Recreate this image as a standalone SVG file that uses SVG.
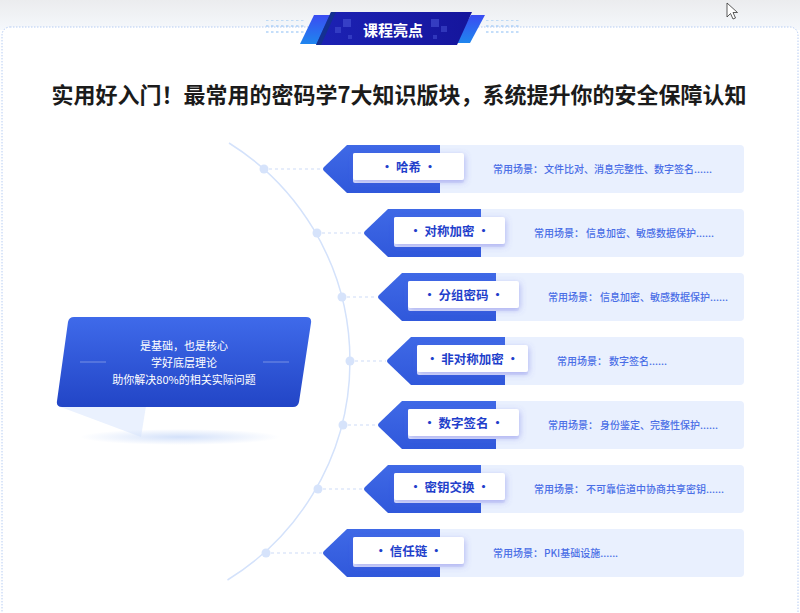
<svg xmlns="http://www.w3.org/2000/svg" width="800" height="613" viewBox="0 0 800 613">
<defs>
<linearGradient id="topbg" x1="0" y1="0" x2="0" y2="1"><stop offset="0" stop-color="#ebecee"/><stop offset="1" stop-color="#f5f8fc"/></linearGradient>
<linearGradient id="navy" x1="0" y1="0" x2="1" y2="0"><stop offset="0" stop-color="#1c22b4"/><stop offset="1" stop-color="#15159c"/></linearGradient>
<linearGradient id="side" x1="0" y1="0" x2="0" y2="1"><stop offset="0" stop-color="#3a4cf2"/><stop offset="1" stop-color="#1f86ee"/></linearGradient>
<linearGradient id="leftbox" x1="0" y1="0" x2="0" y2="1"><stop offset="0" stop-color="#3f6aea"/><stop offset="1" stop-color="#2245c6"/></linearGradient>
<linearGradient id="arrow" x1="0" y1="0" x2="0" y2="1"><stop offset="0" stop-color="#3f69e6"/><stop offset="1" stop-color="#3058db"/></linearGradient>
<radialGradient id="glow" cx="0.5" cy="0.5" r="0.5"><stop offset="0" stop-color="#d3e1fa"/><stop offset="1" stop-color="#d3e1fa" stop-opacity="0"/></radialGradient>
<filter id="sh" x="-20%" y="-40%" width="140%" height="200%"><feDropShadow dx="1" dy="2" stdDeviation="3" flood-color="#5a5fe0" flood-opacity="0.38"/></filter>
<pattern id="dots" width="5" height="6" patternUnits="userSpaceOnUse"><rect x="1" y="1" width="2.5" height="2" fill="#9cc8f6"/></pattern>
<style>
.lt{fill:#e9f0fe}
.ar{fill:url(#arrow)}
.wb{fill:#ffffff;filter:url(#sh)}
.st{fill:#dbe1fb}
.lb{font-family:"Noto Sans CJK SC","Noto Sans",sans-serif;font-size:12.5px;font-weight:700;fill:#1f3fcb;text-anchor:middle}
.ds{font-family:"Noto Sans CJK SC","Noto Sans",sans-serif;font-size:10px;font-weight:500;fill:#4a6ee6}
.cn{fill:#d6e3fb}
.dl{stroke:#cddbf8;stroke-width:1.2;stroke-dasharray:3 3;fill:none}
</style>
</defs>
<rect x="0" y="0" width="800" height="613" fill="#ffffff"/>
<rect x="0" y="0" width="800" height="30" fill="url(#topbg)"/>
<rect x="2" y="27" width="796" height="620" rx="8" fill="#ffffff" stroke="#b6ccf3" stroke-width="1" stroke-dasharray="1.5 1.5"/>

<g id="banner">
<rect x="265" y="20" width="40" height="17" fill="url(#dots)" opacity="0.6"/>
<rect x="486" y="20" width="34" height="17" fill="url(#dots)" opacity="0.6"/>
<polygon points="314,15 333,15 318,44 300,44" fill="url(#side)"/>
<polygon points="471,15 485,15 470,43 454,43" fill="url(#side)"/>
<polygon points="331,12 472,12 457,45 316,45" fill="url(#navy)"/>
<polygon points="331,12 336,12 321,45 316,45" fill="#0f3b7a" opacity="0.6"/>
<rect x="343" y="19" width="8" height="8" fill="#4a55d6" opacity="0.6"/>
<rect x="335" y="27" width="6" height="6" fill="#4a55d6" opacity="0.5"/>
<rect x="348" y="35" width="4" height="4" fill="#4a55d6" opacity="0.5"/>
<rect x="431" y="19" width="8" height="8" fill="#4a55d6" opacity="0.6"/>
<rect x="441" y="26" width="6" height="6" fill="#4a55d6" opacity="0.5"/>
<rect x="433" y="35" width="4" height="4" fill="#4a55d6" opacity="0.5"/>
<text x="393" y="35.5" font-family="'Noto Sans CJK SC',sans-serif" font-size="15" font-weight="700" fill="#ffffff" text-anchor="middle">课程亮点</text>
</g>

<text id="title" x="399" y="103" font-family="'Noto Sans CJK SC',sans-serif" font-size="22" font-weight="700" fill="#1b1b1b" text-anchor="middle">实用好入门！最常用的密码学7大知识版块，系统提升你的安全保障认知</text>

<g id="center">
<polygon points="58,406 146,406 141,437" fill="#eaf1fe"/>
<ellipse cx="180" cy="437" rx="100" ry="8" fill="url(#glow)"/>
<path d="M74,317 L306,317 Q312,317 311,323 L299,402 Q298,407 293,407 L62,407 Q56,407 57,401 L68,322 Q69,317 74,317 Z" fill="url(#leftbox)"/>
<line x1="80" y1="362" x2="106" y2="362" stroke="#ffffff" stroke-opacity="0.35" stroke-width="1"/>
<line x1="263" y1="362" x2="289" y2="362" stroke="#ffffff" stroke-opacity="0.35" stroke-width="1"/>
<text font-family="'Noto Sans CJK SC',sans-serif" font-size="11" fill="#ffffff" text-anchor="middle"><tspan x="184" y="350">是基础，也是核心</tspan><tspan x="184" y="367">学好底层理论</tspan><tspan x="184" y="384">助你解决80%的相关实际问题</tspan></text>
</g>

<g id="connectors">
<path d="M229,143 A257,257 0 0 1 227.5,580" fill="none" stroke="#d4e2fb" stroke-width="1.5"/>
<line class="dl" x1="269" y1="169" x2="322" y2="169"/>
<line class="dl" x1="322" y1="233" x2="363" y2="233"/>
<line class="dl" x1="347" y1="297" x2="377" y2="297"/>
<line class="dl" x1="355" y1="361" x2="386" y2="361"/>
<line class="dl" x1="348" y1="425" x2="377" y2="425"/>
<line class="dl" x1="323" y1="489" x2="363" y2="489"/>
<line class="dl" x1="271" y1="553" x2="322" y2="553"/>
<circle class="cn" cx="264" cy="169" r="4.5"/>
<circle class="cn" cx="317" cy="233" r="4.5"/>
<circle class="cn" cx="342" cy="297" r="4.5"/>
<circle class="cn" cx="350" cy="361" r="4.5"/>
<circle class="cn" cx="343" cy="425" r="4.5"/>
<circle class="cn" cx="318" cy="489" r="4.5"/>
<circle class="cn" cx="266" cy="553" r="4.5"/>
</g>

<g id="row1">
<rect class="lt" x="430" y="145" width="314" height="48" rx="4"/>
<path class="ar" d="M347,145 L440,145 L440,193 L347,193 L324,171 Q322,169 324,167 Z"/>
<rect class="st" x="353" y="153" width="111" height="30" rx="2"/>
<rect class="wb" x="353" y="153" width="111" height="27" rx="2"/>
<text class="lb" x="408.5" y="171.5">·  哈希  ·</text>
<text class="ds" x="493" y="172.5">常用场景：<tspan x="544">文件比对、消息完整性、数字签名......</tspan></text>
</g>
<g id="row2">
<rect class="lt" x="471" y="209" width="273" height="48" rx="4"/>
<path class="ar" d="M388,209 L481,209 L481,257 L388,257 L365,235 Q363,233 365,231 Z"/>
<rect class="st" x="394" y="217" width="111" height="30" rx="2"/>
<rect class="wb" x="394" y="217" width="111" height="27" rx="2"/>
<text class="lb" x="449.5" y="235.5">·  对称加密  ·</text>
<text class="ds" x="534" y="236.5">常用场景：<tspan x="586">信息加密、敏感数据保护......</tspan></text>
</g>
<g id="row3">
<rect class="lt" x="485" y="273" width="259" height="48" rx="4"/>
<path class="ar" d="M402,273 L496,273 L496,321 L402,321 L379,299 Q377,297 379,295 Z"/>
<rect class="st" x="408" y="281" width="111" height="30" rx="2"/>
<rect class="wb" x="408" y="281" width="111" height="27" rx="2"/>
<text class="lb" x="463.5" y="299.5">·  分组密码  ·</text>
<text class="ds" x="548" y="300.5">常用场景：<tspan x="600">信息加密、敏感数据保护......</tspan></text>
</g>
<g id="row4">
<rect class="lt" x="494" y="337" width="250" height="48" rx="4"/>
<path class="ar" d="M411,337 L505,337 L505,385 L411,385 L388,363 Q386,361 388,359 Z"/>
<rect class="st" x="417" y="345" width="111" height="30" rx="2"/>
<rect class="wb" x="417" y="345" width="111" height="27" rx="2"/>
<text class="lb" x="472.5" y="363.5">·  非对称加密  ·</text>
<text class="ds" x="557" y="364.5">常用场景：<tspan x="609">数字签名......</tspan></text>
</g>
<g id="row5">
<rect class="lt" x="485" y="401" width="259" height="48" rx="4"/>
<path class="ar" d="M402,401 L496,401 L496,449 L402,449 L379,427 Q377,425 379,423 Z"/>
<rect class="st" x="408" y="409" width="111" height="30" rx="2"/>
<rect class="wb" x="408" y="409" width="111" height="27" rx="2"/>
<text class="lb" x="463.5" y="427.5">·  数字签名  ·</text>
<text class="ds" x="548" y="428.5">常用场景：<tspan x="600">身份鉴定、完整性保护......</tspan></text>
</g>
<g id="row6">
<rect class="lt" x="471" y="465" width="273" height="48" rx="4"/>
<path class="ar" d="M388,465 L481,465 L481,513 L388,513 L365,491 Q363,489 365,487 Z"/>
<rect class="st" x="394" y="473" width="111" height="30" rx="2"/>
<rect class="wb" x="394" y="473" width="111" height="27" rx="2"/>
<text class="lb" x="449.5" y="491.5">·  密钥交换  ·</text>
<text class="ds" x="534" y="492.5">常用场景：<tspan x="586">不可靠信道中协商共享密钥......</tspan></text>
</g>
<g id="row7">
<rect class="lt" x="430" y="529" width="314" height="48" rx="4"/>
<path class="ar" d="M347,529 L440,529 L440,577 L347,577 L324,555 Q322,553 324,551 Z"/>
<rect class="st" x="353" y="537" width="111" height="30" rx="2"/>
<rect class="wb" x="353" y="537" width="111" height="27" rx="2"/>
<text class="lb" x="408.5" y="555.5">·  信任链  ·</text>
<text class="ds" x="493" y="556.5">常用场景：<tspan x="544">PKI基础设施......</tspan></text>
</g>

<path d="M727,3 L727,17 L730.5,13.5 L733,19 L735.5,18 L733,12.5 L737.5,12.5 Z" fill="#ffffff" stroke="#333333" stroke-width="0.8"/>
</svg>
